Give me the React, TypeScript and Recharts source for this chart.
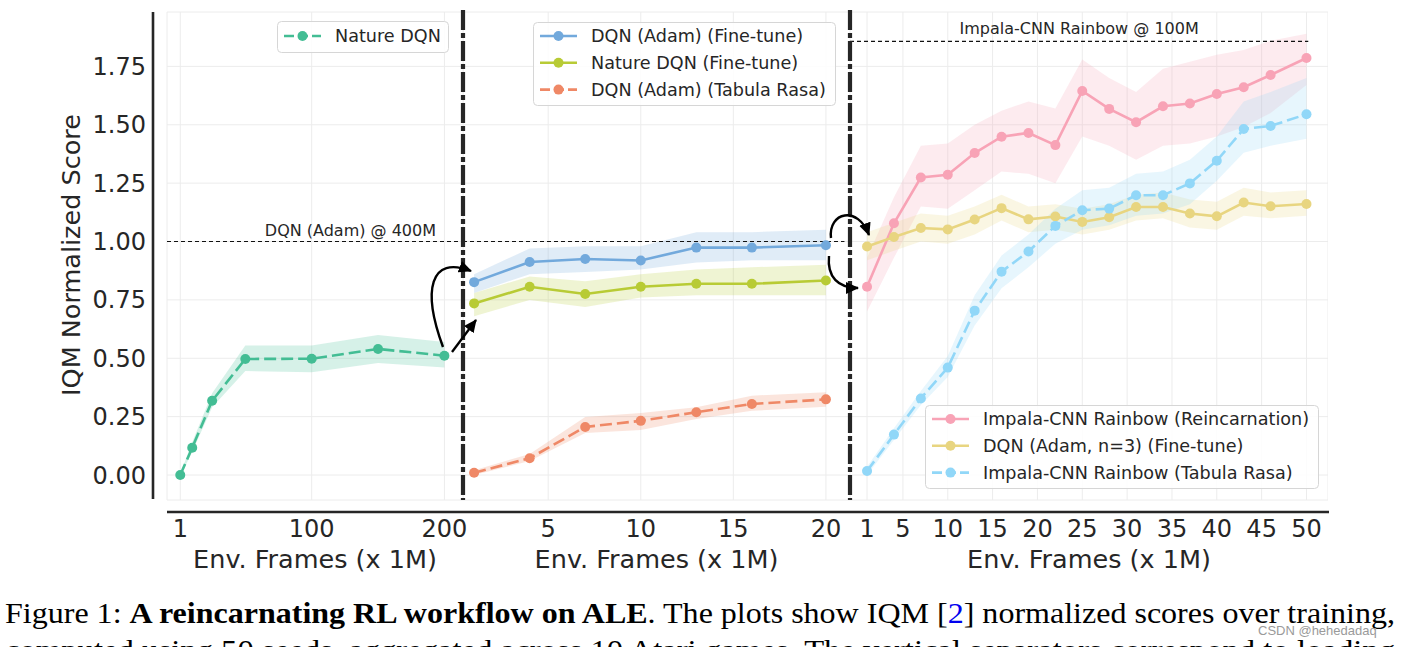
import React from 'react'
import {
  ComposedChart,
  Line,
  Area,
  XAxis,
  YAxis,
  CartesianGrid,
  ReferenceLine,
  Legend,
} from 'recharts'

const FONT = "'DejaVu Sans', sans-serif"
const INK = '#262626'

// y axis shared by the three panels
const Y_DOMAIN: [number, number] = [-0.107, 1.983]
const yTicks = [0, 0.25, 0.5, 0.75, 1, 1.25, 1.5, 1.75]

// panel 1: Nature DQN, 200M frames
const natureX = [1, 10, 25, 50, 100, 150, 200]
const natureMean = [0.0, 0.117, 0.318, 0.497, 0.498, 0.54, 0.511]
const natureLo = [-0.005, 0.1, 0.29, 0.445, 0.44, 0.48, 0.46]
const natureHi = [0.005, 0.14, 0.35, 0.555, 0.555, 0.6, 0.57]
const panel1Ticks = [1, 100, 200]
const panel1Names = ['Nature DQN']

// panel 2: fine-tuning vs tabula rasa, 20M frames
const ftX = [1, 4, 7, 10, 13, 16, 20]
const adamFtMean = [0.826, 0.912, 0.925, 0.919, 0.974, 0.974, 0.984]
const adamFtLo = [0.78, 0.86, 0.87, 0.88, 0.91, 0.92, 0.92]
const adamFtHi = [0.86, 0.97, 0.98, 0.98, 1.04, 1.04, 1.05]
const natureFtMean = [0.735, 0.806, 0.775, 0.806, 0.819, 0.819, 0.833]
const natureFtLo = [0.68, 0.75, 0.72, 0.76, 0.77, 0.77, 0.77]
const natureFtHi = [0.78, 0.85, 0.83, 0.86, 0.88, 0.89, 0.9]
const adamTrMean = [0.01, 0.072, 0.206, 0.232, 0.269, 0.304, 0.324]
const adamTrLo = [0.0, 0.06, 0.18, 0.193, 0.24, 0.275, 0.292]
const adamTrHi = [0.02, 0.09, 0.248, 0.266, 0.29, 0.34, 0.354]
const panel2Ticks = [5, 10, 15, 20]
const panel2Names = ['DQN (Adam) (Fine-tune)', 'Nature DQN (Fine-tune)', 'DQN (Adam) (Tabula Rasa)']

// panel 3: Impala-CNN Rainbow, 50M frames
const rbX = [1, 4, 7, 10, 13, 16, 19, 22, 25, 28, 31, 34, 37, 40, 43, 46, 50]
const rbReMean = [0.806, 1.078, 1.274, 1.286, 1.379, 1.449, 1.465, 1.413, 1.645, 1.568, 1.511, 1.579, 1.591, 1.632, 1.661, 1.713, 1.786]
const rbReLo = [0.7, 0.93, 1.15, 1.14, 1.22, 1.3, 1.29, 1.25, 1.45, 1.41, 1.35, 1.41, 1.42, 1.45, 1.49, 1.55, 1.67]
const rbReHi = [0.93, 1.19, 1.41, 1.42, 1.5, 1.56, 1.6, 1.57, 1.78, 1.7, 1.64, 1.74, 1.77, 1.8, 1.82, 1.86, 1.89]
const adamN3Mean = [0.979, 1.019, 1.058, 1.052, 1.094, 1.143, 1.095, 1.107, 1.084, 1.104, 1.148, 1.148, 1.12, 1.108, 1.167, 1.151, 1.161]
const adamN3Lo = [0.92, 0.96, 1.0, 0.99, 1.03, 1.09, 1.04, 1.05, 1.03, 1.05, 1.09, 1.1, 1.06, 1.05, 1.11, 1.1, 1.11]
const adamN3Hi = [1.04, 1.08, 1.12, 1.11, 1.15, 1.2, 1.15, 1.16, 1.14, 1.16, 1.2, 1.21, 1.18, 1.17, 1.23, 1.21, 1.22]
const rbTrMean = [0.017, 0.173, 0.328, 0.46, 0.704, 0.871, 0.957, 1.067, 1.134, 1.141, 1.198, 1.198, 1.249, 1.346, 1.482, 1.495, 1.545]
const rbTrLo = [0.0, 0.15, 0.3, 0.42, 0.64, 0.8, 0.89, 0.99, 1.05, 1.07, 1.11, 1.12, 1.16, 1.26, 1.38, 1.41, 1.44]
const rbTrHi = [0.035, 0.2, 0.36, 0.51, 0.77, 0.94, 1.03, 1.14, 1.22, 1.23, 1.29, 1.3, 1.35, 1.45, 1.6, 1.64, 1.7]
const panel3Ticks = [1, 5, 10, 15, 20, 25, 30, 35, 40, 45, 50]
const panel3Names = [
  'Impala-CNN Rainbow (Reincarnation)',
  'DQN (Adam, n=3) (Fine-tune)',
  'Impala-CNN Rainbow (Tabula Rasa)',
]

const DQN_400M = 1.0
const RAINBOW_100M = 1.857

const COLORS = {
  nature: '#43bd94',
  adamFt: '#72a9dc',
  natureFt: '#b8cb35',
  adamTr: '#ef8866',
  rbRe: '#f8a3b6',
  adamN3: '#e8d580',
  rbTr: '#91d7f8',
}

const panel1Rows = natureX.map((x, i) => ({
  x,
  nature: natureMean[i],
  natureBand: [natureLo[i], natureHi[i]],
}))

const panel2Rows = ftX.map((x, i) => ({
  x,
  adamFt: adamFtMean[i],
  adamFtBand: [adamFtLo[i], adamFtHi[i]],
  natureFt: natureFtMean[i],
  natureFtBand: [natureFtLo[i], natureFtHi[i]],
  adamTr: adamTrMean[i],
  adamTrBand: [adamTrLo[i], adamTrHi[i]],
}))

const panel3Rows = rbX.map((x, i) => ({
  x,
  rbRe: rbReMean[i],
  rbReBand: [rbReLo[i], rbReHi[i]],
  adamN3: adamN3Mean[i],
  adamN3Band: [adamN3Lo[i], adamN3Hi[i]],
  rbTr: rbTrMean[i],
  rbTrBand: [rbTrLo[i], rbTrHi[i]],
}))

const tickStyle = { fill: INK, fontSize: 24, fontFamily: FONT }
const DASH = '12 5'

const xAxisProps = (domain: [number, number], ticks: number[]) => ({
  dataKey: 'x',
  type: 'number' as const,
  domain,
  ticks,
  interval: 0 as const,
  allowDataOverflow: true,
  axisLine: false,
  tickLine: false,
  tickSize: 0,
  tickMargin: 20,
  height: 80,
  tick: tickStyle,
  label: {
    value: 'Env. Frames (x 1M)',
    position: 'insideBottom' as const,
    offset: 12,
    fill: INK,
    fontSize: 25.5,
    fontFamily: FONT,
  },
})

const band = (key: string, color: string) => (
  <Area
    key={key + 'Band'}
    type="linear"
    dataKey={key + 'Band'}
    stroke="none"
    fill={color}
    fillOpacity={0.22}
    legendType="none"
    activeDot={false}
    isAnimationActive={false}
  />
)

const series = (key: string, name: string, color: string, dashed: boolean) => (
  <Line
    key={key}
    type="linear"
    dataKey={key}
    name={name}
    stroke={color}
    strokeWidth={2.6}
    strokeDasharray={dashed ? DASH : undefined}
    dot={{ r: 5, fill: color, strokeWidth: 0 }}
    activeDot={false}
    isAnimationActive={false}
  />
)

const makeLegend = (w: number, h: number, order: string[]) => (props: any) => {
  const items = (props.payload || [])
    .filter((p: any) => p.type !== 'none')
    .slice()
    .sort((a: any, b: any) => order.indexOf(a.value) - order.indexOf(b.value))
  const first = items.length === 1 ? h / 2 - 1 : 14
  return (
    <svg width={w} height={h} style={{ display: 'block' }}>
      <rect
        x={0.5}
        y={0.5}
        width={w - 1}
        height={h - 1}
        rx={4}
        fill="#fff"
        fillOpacity={0.85}
        stroke="#d6d6d6"
      />
      {items.map((it: any, i: number) => {
        const y = first + i * 26.8
        const dashed = !!(it.payload && it.payload.strokeDasharray)
        return (
          <g key={i}>
            <line
              x1={7}
              x2={44}
              y1={y}
              y2={y}
              stroke={it.color}
              strokeWidth={2.6}
              strokeDasharray={dashed ? '10 4' : undefined}
            />
            <circle cx={25.5} cy={y} r={5} fill={it.color} />
            <text
              x={58}
              y={y}
              dominantBaseline="central"
              fontSize={17.6}
              fontFamily={FONT}
              fill={INK}
            >
              {it.value}
            </text>
          </g>
        )
      })}
    </svg>
  )
}

const App = () => {
  return (
    <div
      style={{
        position: 'absolute',
        left: 0,
        top: 0,
        width: 1401,
        height: 647,
        overflow: 'hidden',
        background: '#fff',
        fontFamily: FONT,
      }}
    >
      {/* panel 1 */}
      <div style={{ position: 'absolute', left: 0, top: 0 }}>
        <ComposedChart
          width={483}
          height={580}
          data={panel1Rows}
          margin={{ top: 12, right: 20, bottom: 0, left: 0 }}
        >
          <CartesianGrid stroke="#ececec" />
          <XAxis {...xAxisProps([-9, 214], panel1Ticks)} />
          <YAxis
            type="number"
            domain={Y_DOMAIN}
            ticks={yTicks}
            allowDataOverflow
            width={167}
            axisLine={false}
            tickLine={false}
            tickSize={0}
            tickMargin={21}
            tick={tickStyle}
            tickFormatter={(v: number) => v.toFixed(2)}
          />
          <ReferenceLine
            y={DQN_400M}
            stroke="#111"
            strokeWidth={1.2}
            strokeDasharray="4 3"
            label={(p: any) => (
              <text
                x={p.viewBox.x + p.viewBox.width - 27}
                y={p.viewBox.y - 6}
                textAnchor="end"
                fontSize={16}
                fontFamily={FONT}
                fill={INK}
              >
                DQN (Adam) @ 400M
              </text>
            )}
          />
          {band('nature', COLORS.nature)}
          {series('nature', panel1Names[0], COLORS.nature, true)}
          <Legend
            layout="vertical"
            align="center"
            verticalAlign="middle"
            content={makeLegend(172, 32, panel1Names)}
            wrapperStyle={{ left: 277, top: 21, width: 172, height: 32 }}
          />
        </ComposedChart>
      </div>

      {/* panel 2 */}
      <div style={{ position: 'absolute', left: 463, top: 0 }}>
        <ComposedChart
          width={387}
          height={580}
          data={panel2Rows}
          margin={{ top: 12, right: 0, bottom: 0, left: 0 }}
        >
          <CartesianGrid stroke="#ececec" />
          <XAxis {...xAxisProps([0.4, 21.3], panel2Ticks)} />
          <YAxis hide type="number" domain={Y_DOMAIN} ticks={yTicks} allowDataOverflow />
          <ReferenceLine
            segment={[
              { x: 0.4, y: DQN_400M },
              { x: 21.0, y: DQN_400M },
            ]}
            stroke="#111"
            strokeWidth={1.2}
            strokeDasharray="4 3"
          />
          {band('adamFt', COLORS.adamFt)}
          {band('natureFt', COLORS.natureFt)}
          {band('adamTr', COLORS.adamTr)}
          {series('adamFt', panel2Names[0], COLORS.adamFt, false)}
          {series('natureFt', panel2Names[1], COLORS.natureFt, false)}
          {series('adamTr', panel2Names[2], COLORS.adamTr, true)}
          <Legend
            layout="vertical"
            align="center"
            verticalAlign="middle"
            content={makeLegend(303, 84, panel2Names)}
            wrapperStyle={{ left: 70, top: 22, width: 303, height: 84 }}
          />
        </ComposedChart>
      </div>

      {/* panel 3 */}
      <div style={{ position: 'absolute', left: 850, top: 0 }}>
        <ComposedChart
          width={478}
          height={580}
          data={panel3Rows}
          margin={{ top: 12, right: 0, bottom: 0, left: 0 }}
        >
          <CartesianGrid stroke="#ececec" />
          <XAxis {...xAxisProps([-0.9, 52.4], panel3Ticks)} />
          <YAxis hide type="number" domain={Y_DOMAIN} ticks={yTicks} allowDataOverflow />
          <ReferenceLine
            segment={[
              { x: -0.9, y: RAINBOW_100M },
              { x: 50.2, y: RAINBOW_100M },
            ]}
            stroke="#111"
            strokeWidth={1.2}
            strokeDasharray="4 3"
            label={(p: any) => (
              <text
                x={p.viewBox.x + p.viewBox.width / 2}
                y={p.viewBox.y - 7}
                textAnchor="middle"
                fontSize={16}
                fontFamily={FONT}
                fill={INK}
              >
                Impala-CNN Rainbow @ 100M
              </text>
            )}
          />
          {band('rbRe', COLORS.rbRe)}
          {band('adamN3', COLORS.adamN3)}
          {band('rbTr', COLORS.rbTr)}
          {series('rbRe', panel3Names[0], COLORS.rbRe, false)}
          {series('adamN3', panel3Names[1], COLORS.adamN3, false)}
          {series('rbTr', panel3Names[2], COLORS.rbTr, true)}
          <Legend
            layout="vertical"
            align="center"
            verticalAlign="middle"
            content={makeLegend(394, 84, panel3Names)}
            wrapperStyle={{ left: 75, top: 405, width: 394, height: 84 }}
          />
        </ComposedChart>
      </div>

      {/* axis spines, panel separators, arrows, caption */}
      <svg
        width={1401}
        height={647}
        style={{ position: 'absolute', left: 0, top: 0, pointerEvents: 'none' }}
      >
        <defs>
          <marker
            id="head"
            markerUnits="userSpaceOnUse"
            markerWidth={14}
            markerHeight={12}
            refX={12}
            refY={6}
            orient="auto"
          >
            <path d="M0,0 L13,6 L0,12 Z" fill="#000" />
          </marker>
        </defs>
        <line x1={153} x2={153} y1={12} y2={499} stroke={INK} strokeWidth={2.6} />
        <line x1={167} x2={1329} y1={512} y2={512} stroke={INK} strokeWidth={2.6} />
        <line x1={463} x2={463} y1={10} y2={500} stroke={INK} strokeWidth={4.2} strokeDasharray="20 3 5 3" />
        <line x1={850} x2={850} y1={10} y2={500} stroke={INK} strokeWidth={4.2} strokeDasharray="20 3 5 3" />
        <g fill="none" stroke="#000" strokeWidth={2.4} markerEnd="url(#head)">
          <path d="M443,347 C422,290 430,255 471,271" />
          <path d="M452,352 L476,320" />
          <path d="M831,238 C828,212 858,205 869,235" />
          <path d="M829,256 C827,277 838,288 858,288" />
        </g>
        <text
          transform="translate(80,255) rotate(-90)"
          textAnchor="middle"
          fontSize={25.5}
          fontFamily={FONT}
          fill={INK}
        >
          IQM Normalized Score
        </text>
        <text
          x={5}
          y={623}
          fontSize={30}
          fontFamily="'Liberation Serif', serif"
          fill="#000"
          textLength={1390}
          lengthAdjust="spacingAndGlyphs"
        >
          {'Figure 1: '}
          <tspan fontWeight="bold">A reincarnating RL workflow on ALE</tspan>
          {'. The plots show IQM ['}
          <tspan fill="#0000ee">2</tspan>
          {'] normalized scores over training,'}
        </text>
        <text
          x={5}
          y={660}
          fontSize={30}
          fontFamily="'Liberation Serif', serif"
          fill="#000"
          textLength={1390}
          lengthAdjust="spacingAndGlyphs"
        >
          computed using 50 seeds, aggregated across 10 Atari games. The vertical separators correspond to loading
        </text>
        <text
          x={1258}
          y={635}
          fontSize={13}
          fontFamily="'Liberation Sans', Arial, sans-serif"
          fill="#9a9a9a"
        >
          CSDN @hehedadaq
        </text>
      </svg>
    </div>
  )
}

export default App
